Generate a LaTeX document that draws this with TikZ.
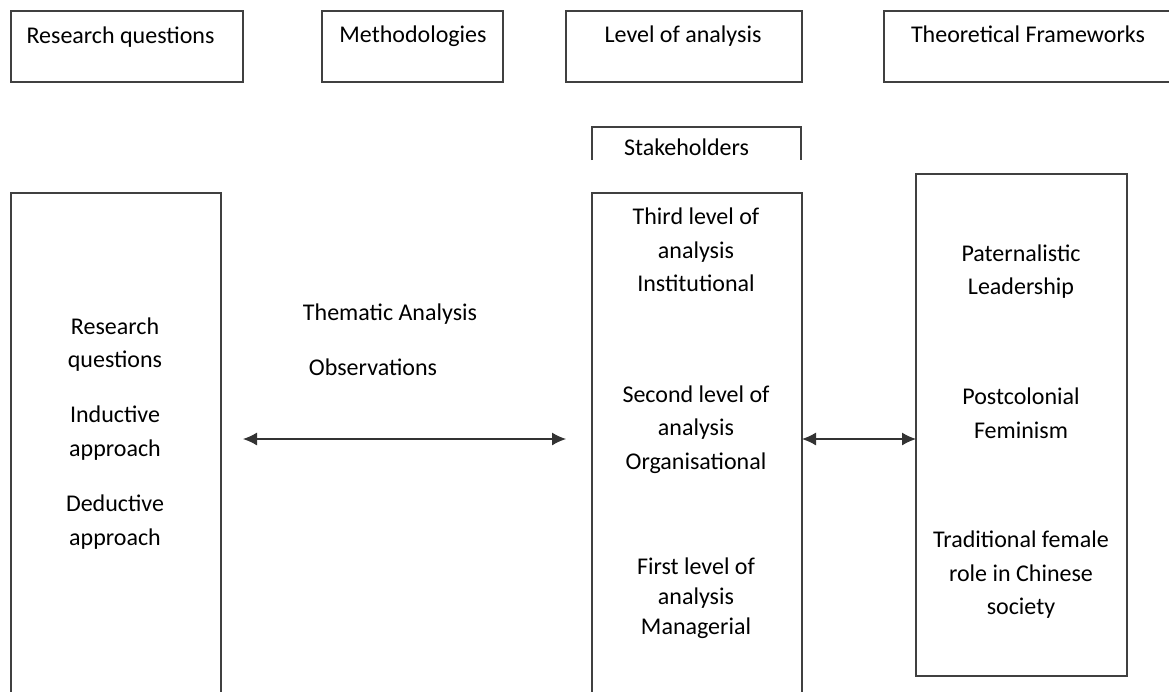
\documentclass[tikz,border=0pt]{standalone}
\usepackage{fontspec}
\setmainfont{Carlito}
\usetikzlibrary{arrows.meta,calc}
\tikzset{
    headbox/.style = {
        draw=black!75, line width=1.3pt, rectangle,
        outer sep=0,
        inner sep=0,
        minimum height={71pt}
    },
    tallbox/.style = {
        draw=black!75, line width=1.3pt, rectangle,
        outer sep=0,
        inner sep=0,
        minimum width={210pt}
    },
    txt/.style = {
        align=center, inner sep=0,
        font=\fontsize{24}{33.5}\selectfont
    },
    edge/.style = {draw=black!75, line width=1.3pt},
    dblarrow/.style = {
        draw=black!80, line width=1.2pt,
        {Latex[length=14pt,width=13pt]}-{Latex[length=14pt,width=13pt]}
    }
}

\begin{document}
\begin{tikzpicture}[x=1pt,y=-1pt]

% 0. page frame
\useasboundingbox (0,0) rectangle (1169,691);
\clip (0,0) rectangle (1169,691);

% 1. heading boxes
\node[headbox, minimum width=232pt] (rq)   at (127,46.5)  {};
\node[headbox, minimum width=181pt] (meth) at (412.5,46.5) {};
\node[headbox, minimum width=236pt] (lvl)  at (684,46.5)  {};
\node[headbox, minimum width=306pt] (theo) at (1037,46.5) {};
\node[txt] (rqT)   at (120.5,37) {Research questions};
\node[txt] (methT) at (413,36)   {Methodologies};
\node[txt] (lvlT)  at (683,36)   {Level of analysis};
\node[txt] (theoT) at (1028,34)  {Theoretical Frameworks};

% 2. stakeholders, open at the bottom
\node[minimum width=209pt, minimum height=33pt, inner sep=0, outer sep=0] (stake) at (696.5,143.5) {};
\node[txt] (stakeT) at (686.5,147) {Stakeholders};
\draw[edge] (stake.south west) -- (stake.north west) -- (stake.north east) -- (stake.south east);

% 3. tall boxes
\node[tallbox, minimum height=567pt] (qbox)   at (116,476.5)   {};
\node[tallbox, minimum height=567pt] (stack)  at (697,476.5)   {};
\node[tallbox, minimum width=211pt, minimum height=502pt] (frame) at (1021.5,425) {};

% 4. texts in the boxes
\node[txt] (q1) at (115,344.5) {Research\\ questions};
\node[txt] (q2) at (115,433)   {Inductive\\ approach};
\node[txt] (q3) at (115,522)   {Deductive\\ approach};
\node[txt] (m1) at (390,314)   {Thematic Analysis};
\node[txt] (m2) at (373,367)   {Observations};
\node[txt] (s3) at (696,250)   {Third level of\\ analysis\\ Institutional};
\node[txt] (s2) at (696,429.5) {Second level of\\ analysis\\ Organisational};
\node[txt, font=\fontsize{24}{30}\selectfont] (s1) at (696,598) {First level of\\ analysis\\ Managerial};
\node[txt] (f1) at (1021,271.5) {Paternalistic\\ Leadership};
\node[txt] (f2) at (1021,413)   {Postcolonial\\ Feminism};
\node[txt] (f3) at (1021,575)   {Traditional female\\ role in Chinese\\ society};

% 5. arrows
\coordinate (axis) at (0,439);
\draw[dblarrow] ($(qbox.east |- axis)+(22,0)$) -- ($(stack.west |- axis)+(-26,0)$);
\draw[dblarrow] (stack.east |- axis) -- (frame.west |- axis);

\end{tikzpicture}
\end{document}
